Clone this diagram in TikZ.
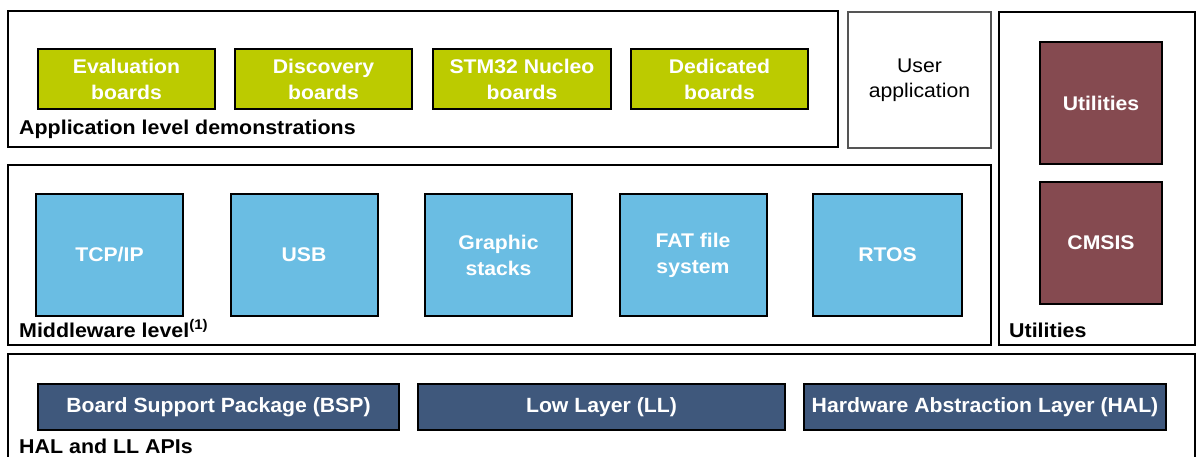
\documentclass[tikz,border=0pt]{standalone}
\usepackage{fontspec}
\setmainfont{Liberation Sans}[FakeStretch=1.07]
\newfontfamily\navyfont{Liberation Sans}[FakeStretch=1.03]
\definecolor{brdgreen}{HTML}{BCCB00}
\definecolor{mwblue}{HTML}{6ABDE3}
\definecolor{utilred}{HTML}{854A50}
\definecolor{apinavy}{HTML}{3F587C}
\definecolor{usergray}{HTML}{555555}
\tikzset{
  frame/.style={draw=black, line width=2pt, fill=white, rectangle, inner sep=0pt},
  userframe/.style={draw=usergray, line width=2pt, fill=white, rectangle, inner sep=0pt, align=center, font=\fontsize{19.8}{25}\selectfont},
  blk/.style={draw=black, line width=2pt, rectangle, inner sep=0pt, align=center, text=white, font=\fontsize{19.8}{26}\selectfont\bfseries},
  greenbox/.style={blk, fill=brdgreen, minimum width=177pt, minimum height=60pt},
  bluebox/.style={blk, fill=mwblue, minimum width=147pt, minimum height=122pt},
  redbox/.style={blk, fill=utilred, minimum width=122pt, minimum height=122pt},
  navybox/.style={blk, fill=apinavy, minimum height=46pt, font=\navyfont\fontsize{20.6}{26}\selectfont\bfseries},
  lbl/.style={anchor=base west, inner sep=0pt, font=\fontsize{20}{24}\selectfont\bfseries}
}
\begin{document}
\begin{tikzpicture}[x=1pt,y=-1pt]
\useasboundingbox (0,0) rectangle (1197,457);
% frames
\node[frame, minimum width=830pt, minimum height=136pt] (appf) at (423,79) {};
\node[userframe, minimum width=143pt, minimum height=136pt] (user) at (919.5,80) {User\\application};
\node[frame, minimum width=196pt, minimum height=333pt] (utilf) at (1097,178.5) {};
\node[frame, minimum width=983pt, minimum height=180pt] (midf) at (499.5,255) {};
\node[frame, minimum width=1187pt, minimum height=130pt] (apif) at (601.5,419) {};
% application level
\node[greenbox] (eval) at (126.5,79) {Evaluation\\boards};
\node[greenbox] (disc) at (323.5,79) {Discovery\\boards};
\node[greenbox, minimum width=178pt] (nucl) at (522,79) {STM32 Nucleo\\boards};
\node[greenbox] (dedi) at (719.5,79) {Dedicated\\boards};
\node[lbl] (applbl) at (19,135) {Application level demonstrations};
% middleware
\node[bluebox] (tcp) at (109.5,255) {TCP/IP};
\node[bluebox] (usb) at (304,255) {USB};
\node[bluebox] (gfx) at (498.5,255) {Graphic\\stacks};
\node[bluebox] (fat) at (693,255) {FAT file\\system};
\node[bluebox, minimum width=149pt] (rtos) at (887.5,255) {RTOS};
\node[lbl] (midlbl) at (19,337) {Middleware level\textsuperscript{(1)}};
% utilities
\node[redbox] (util) at (1101,103) {Utilities};
\node[redbox] (cmsis) at (1101,243) {CMSIS};
\node[lbl] (utillbl) at (1009,337) {Utilities};
% HAL and LL
\node[navybox, minimum width=361pt] (bsp) at (218.5,407) {Board Support Package (BSP)};
\node[navybox, minimum width=367pt] (ll) at (601.5,407) {Low Layer (LL)};
\node[navybox, minimum width=362pt] (hal) at (985,407) {Hardware Abstraction Layer (HAL)};
\node[lbl] (apilbl) at (19,453) {HAL and LL APIs};
\end{tikzpicture}
\end{document}
